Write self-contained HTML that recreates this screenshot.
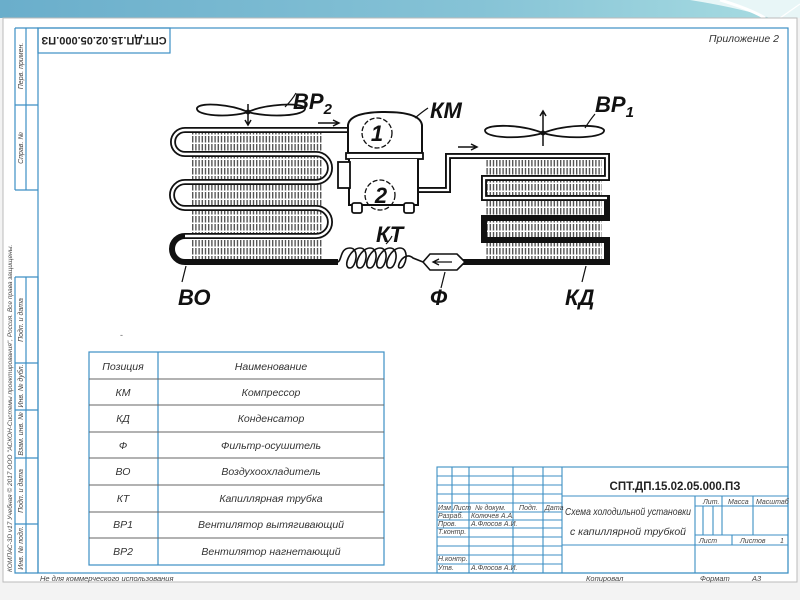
<!DOCTYPE html>
<html><head><meta charset="utf-8"><style>
html,body{margin:0;padding:0;width:800px;height:600px;overflow:hidden;background:#f2f2f2}
svg{display:block}
text{font-family:"Liberation Sans","DejaVu Sans",sans-serif}
.t{font-style:italic;fill:#333;font-size:10.5px}
.s{font-style:italic;fill:#444;font-size:7px}
.L{font-style:italic;font-weight:bold;fill:#111;font-size:22px}
</style></head><body>
<svg width="800" height="600" viewBox="0 0 800 600" xmlns="http://www.w3.org/2000/svg">
<defs>
<linearGradient id="bn" x1="0" x2="1" y1="0" y2="0">
<stop offset="0" stop-color="#6aaecb"/><stop offset="0.6" stop-color="#86c3d6"/><stop offset="1" stop-color="#a9dde2"/></linearGradient>
<pattern id="fin" width="3.2" height="8" patternUnits="userSpaceOnUse">
<rect width="3.2" height="8" fill="#fff"/><rect x="0" y="0" width="1.4" height="6.5" fill="#555"/></pattern>
</defs>
<rect x="0" y="0" width="800" height="600" fill="#f3f3f3"/>
<rect x="0" y="0" width="800" height="18" fill="url(#bn)"/>
<path d="M690,0 Q740,8 770,18 L800,18 L800,0 Z" fill="#e8f6f7"/>
<path d="M720,0 Q750,9 765,18" stroke="#fff" stroke-width="3" fill="none"/>
<path d="M780,18 L800,4" stroke="#fff" stroke-width="1.2" fill="none"/>
<rect x="3" y="18" width="794" height="564" fill="#fff" stroke="#bbb" stroke-width="1"/>

<g stroke="#3d8fc4" stroke-width="1.2" fill="none">
<rect x="38" y="28" width="750" height="545"/>
<rect x="38" y="28" width="132" height="25"/>
<path d="M15,28 H38 M15,28 V190 M26,28 V190 M15,105 H38 M15,190 H38"/>
<path d="M15,277 H38 V573 M15,277 V573 H38 M26,277 V573 M15,363 H38 M15,410 H38 M15,458 H38 M15,524 H38"/>
</g>
<text x="104" y="45" font-size="11" font-weight="bold" font-family="Liberation Serif" fill="#222" text-anchor="middle" transform="rotate(180 104 41)">СПТ.ДП.15.02.05.000.ПЗ</text>
<text x="779" y="42" class="t" font-size="11" text-anchor="end">Приложение 2</text>
<g class="s">
<text transform="translate(23,66) rotate(-90)" text-anchor="middle">Перв. примен.</text>
<text transform="translate(23,148) rotate(-90)" text-anchor="middle">Справ. №</text>
<text transform="translate(23,320) rotate(-90)" text-anchor="middle">Подп. и дата</text>
<text transform="translate(23,386) rotate(-90)" text-anchor="middle">Инв. № дубл.</text>
<text transform="translate(23,434) rotate(-90)" text-anchor="middle">Взам. инв. №</text>
<text transform="translate(23,491) rotate(-90)" text-anchor="middle">Подп. и дата</text>
<text transform="translate(23,548) rotate(-90)" text-anchor="middle">Инв. № подл.</text>
<text transform="translate(12,572) rotate(-90)" font-size="6.5">КОМПАС-3D v17 Учебная © 2017 ООО "АСКОН-Системы проектирования", Россия. Все права защищены.</text>
<text x="40" y="581" font-size="7.5">Не для коммерческого использования</text>
<text x="586" y="581" font-size="7.5">Копировал</text>
<text x="700" y="581" font-size="7.5">Формат</text>
<text x="752" y="581" font-size="7.5">А3</text>
</g>

<!-- diagram -->
<rect x="192" y="128" width="130" height="135" fill="url(#fin)"/>
<rect x="486" y="160" width="116" height="103" fill="url(#fin)"/>
<path d="M357,130 H185 A12,12 0 0 0 185,154 H316 A14,14 0 0 1 316,182 H185 A13,13 0 0 0 185,208 H316 A14,14 0 0 1 316,236 H185 A13,13 0 0 0 185,262 H338" fill="none" stroke="#111" stroke-width="6"/>
<path d="M357,130 H185 A12,12 0 0 0 185,154 H316 A14,14 0 0 1 316,182 H185 A13,13 0 0 0 185,208 H316 A14,14 0 0 1 316,236 H185" fill="none" stroke="#fff" stroke-width="2.4"/>
<path d="M418,190 H448 V156 H607 V178 H484 V198 H607 V218 H484 V240 H607 V262 H463" fill="none" stroke="#111" stroke-width="6"/>
<path d="M418,190 H448 V156 H607 V178 H484 V198 H607" fill="none" stroke="#fff" stroke-width="2.2"/>
<!-- compressor -->
<path d="M348,153 V125 Q350,112 385,112 Q420,112 422,125 V153 Z" fill="#fff" stroke="#111" stroke-width="2"/>
<rect x="346" y="153" width="77" height="6" fill="#fff" stroke="#111" stroke-width="1.8"/>
<path d="M349,159 V205 H418 V159" fill="#fff" stroke="#111" stroke-width="2"/>
<rect x="352" y="203" width="10" height="10" rx="2" fill="#fff" stroke="#111" stroke-width="1.8"/>
<rect x="404" y="203" width="10" height="10" rx="2" fill="#fff" stroke="#111" stroke-width="1.8"/>
<rect x="338" y="162" width="12" height="26" fill="#fff" stroke="#111" stroke-width="1.8"/>
<circle cx="377" cy="133" r="15" fill="none" stroke="#111" stroke-width="1.3" stroke-dasharray="5 2"/>
<circle cx="380" cy="195" r="15" fill="none" stroke="#111" stroke-width="1.3" stroke-dasharray="5 2"/>
<text x="377" y="141" font-size="22" font-weight="bold" font-style="italic" text-anchor="middle" fill="#111">1</text>
<text x="381" y="203" font-size="22" font-weight="bold" font-style="italic" text-anchor="middle" fill="#111">2</text>
<path d="M415,118 Q422,112 428,108" stroke="#111" fill="none" stroke-width="1.3"/>
<!-- arrows -->
<path d="M318,123 H338 M333,120 L339,123 L333,126" stroke="#111" fill="none" stroke-width="1.5"/>
<path d="M458,147 H476 M471,144 L477,147 L471,150" stroke="#111" fill="none" stroke-width="1.5"/>
<!-- fans -->
<g fill="#fff" stroke="#111" stroke-width="1.8">
<path d="M248,112 C230,104 200,102 197,108 C195,116 230,118 248,112 C265,104 302,102 305,108 C307,116 268,118 248,112 Z"/>
<path d="M543,133 C520,124 488,124 485,130 C484,138 520,140 543,133 C566,124 600,124 604,130 C606,138 566,140 543,133 Z"/>
</g>
<circle cx="248" cy="112" r="2.5" fill="#111"/><circle cx="543" cy="133" r="2.5" fill="#111"/>
<path d="M248,104 V124 M245,120 L248,125 L251,120" stroke="#111" fill="none" stroke-width="1.5"/>
<path d="M543,146 V112 M540,116 L543,111 L546,116" stroke="#111" fill="none" stroke-width="1.5"/>
<path d="M285,107 Q292,100 296,93" stroke="#111" fill="none" stroke-width="1.2"/>
<path d="M585,128 Q590,120 595,114" stroke="#111" fill="none" stroke-width="1.2"/>
<!-- capillary -->
<path d="M338,262 C342,260 340,248 350,248 C360,248 356,268 350,268 C342,268 350,248 360,248 C370,248 366,268 360,268 C352,268 360,248 370,248 C380,248 376,268 370,268 C362,268 370,248 380,248 C390,248 386,268 380,268 C372,268 380,248 390,248 C400,248 396,268 390,268 C382,268 390,248 400,248 C410,248 406,268 400,268 C395,268 404,250 413,258 L423,262" fill="none" stroke="#111" stroke-width="1.6"/>
<path d="M423,262 L430,254 H457 L465,262 L457,270 H430 Z" fill="#fff" stroke="#111" stroke-width="1.6"/>
<path d="M452,262 H434 M439,259 L433,262 L439,265" stroke="#111" fill="none" stroke-width="1.3"/>
<path d="M386,244 Q390,240 392,236" stroke="#111" fill="none" stroke-width="1.2"/>
<path d="M445,272 L441,288" stroke="#111" fill="none" stroke-width="1.2"/>
<path d="M186,266 L182,282" stroke="#111" fill="none" stroke-width="1.2"/>
<path d="M586,266 L582,282" stroke="#111" fill="none" stroke-width="1.2"/>
<text x="293" y="109" class="L">ВР<tspan font-size="15" dy="5">2</tspan></text>
<text x="430" y="118" class="L">КМ</text>
<text x="595" y="112" class="L">ВР<tspan font-size="15" dy="5">1</tspan></text>
<text x="376" y="242" class="L" font-size="20">КТ</text>
<text x="178" y="305" class="L">ВО</text>
<text x="430" y="305" class="L" font-size="20">Ф</text>
<text x="565" y="305" class="L">КД</text>
<text x="120" y="338" font-size="9" fill="#666">-</text>

<!-- table -->
<g stroke="#3d8fc4" stroke-width="1.2" fill="none">
<rect x="89" y="352" width="295" height="213"/>
<path d="M158,352 V565"/>
</g>
<g stroke="#666" stroke-width="1">
<path d="M89,379 H384 M89,405 H384 M89,432 H384 M89,458 H384 M89,485 H384 M89,512 H384 M89,538 H384"/>
</g>
<g class="t" text-anchor="middle">
<text x="123" y="370">Позиция</text><text x="271" y="370">Наименование</text>
<text x="123" y="396">КМ</text><text x="271" y="396">Компрессор</text>
<text x="123" y="422">КД</text><text x="271" y="422">Конденсатор</text>
<text x="123" y="449">Ф</text><text x="271" y="449">Фильтр-осушитель</text>
<text x="123" y="475">ВО</text><text x="271" y="475">Воздухоохладитель</text>
<text x="123" y="502">КТ</text><text x="271" y="502">Капиллярная трубка</text>
<text x="123" y="528">ВР1</text><text x="271" y="528">Вентилятор вытягивающий</text>
<text x="123" y="555">ВР2</text><text x="271" y="555">Вентилятор нагнетающий</text>
</g>

<!-- title block -->
<g stroke="#3d8fc4" stroke-width="1.1" fill="none">
<rect x="437" y="467" width="351" height="106"/>
<path d="M452,467 V513 M469,467 V573 M513,467 V573 M543,467 V573 M562,467 V573"/>
<path d="M437,476 H562 M437,485 H562 M437,494 H562 M437,503 H562 M437,512 H562 M437,520 H562 M437,528 H562 M437,537 H562 M437,546 H562 M437,555 H562 M437,564 H562"/>
<path d="M562,496 H788 M562,545 H788 M695,496 V573 M695,506 H788 M695,535 H788 M722,496 V535 M753,496 V535 M703,506 V535 M713,506 V535 M732,535 V545"/>
</g>
<text x="675" y="490" font-size="11.5" font-weight="bold" font-family="Liberation Serif" fill="#222" text-anchor="middle">СПТ.ДП.15.02.05.000.ПЗ</text>
<text x="565" y="515" class="t" font-size="12" textLength="126" lengthAdjust="spacingAndGlyphs">Схема холодильной установки</text>
<text x="570" y="535" class="t" font-size="12" textLength="116" lengthAdjust="spacingAndGlyphs">с капиллярной трубкой</text>
<g class="s">
<text x="438" y="510">Изм</text><text x="453" y="510">Лист</text><text x="475" y="510">№ докум.</text><text x="519" y="510">Подп.</text><text x="545" y="510">Дата</text>
<text x="438" y="518">Разраб.</text><text x="471" y="518">Колючев А.А.</text>
<text x="438" y="526">Пров.</text><text x="471" y="526">А.Флосов А.И.</text>
<text x="438" y="534">Т.контр.</text>
<text x="438" y="561">Н.контр.</text>
<text x="438" y="570">Утв.</text><text x="471" y="570">А.Флосов А.И.</text>
<text x="703" y="504">Лит.</text><text x="728" y="504">Масса</text><text x="756" y="504">Масштаб</text>
<text x="699" y="543">Лист</text><text x="740" y="543">Листов</text><text x="780" y="543">1</text>
</g>
</svg>
</body></html>
